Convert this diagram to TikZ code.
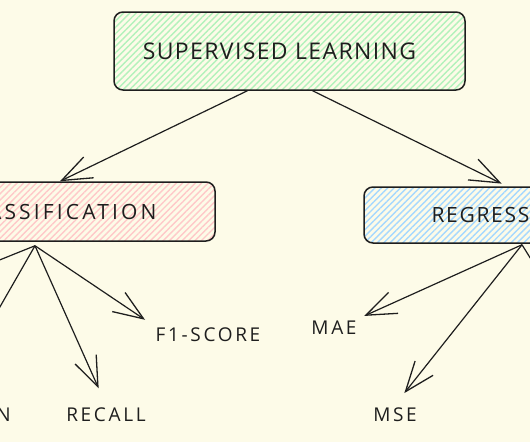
\documentclass[tikz,border=0pt]{standalone}
\usepackage{fontspec}
\setmainfont{Open Sans}
\usetikzlibrary{arrows.meta,patterns.meta}
\definecolor{paper}{HTML}{FDFBE8}
\definecolor{ink}{HTML}{1E1E1E}
\definecolor{mint}{HTML}{B2F2BB}
\definecolor{rose}{HTML}{FFC9C9}
\definecolor{sky}{HTML}{A5D8FF}
\newcommand{\sketchsize}[2]{\fontsize{#1}{#1}\selectfont\addfontfeatures{LetterSpace=#2}}
\tikzset{basic/.style={draw=ink,line width=1.5pt,rounded corners=9pt,
                       text=ink,inner sep=0pt}}
\tikzset{topic/.style={basic,
                       pattern={Lines[angle=45,distance=4.5pt,line width=1.4pt]},
                       pattern color=#1}}
\tikzset{metric/.style={text=ink,inner sep=3pt,font=\sketchsize{19}{14}}}
\tikzset{link/.style={draw=ink,line width=1.2pt,
                      -{Straight Barb[length=30pt,width=23pt,line width=1.3pt]}}}

\begin{document}
\begin{tikzpicture}[x=1pt,y=-1pt]
    \fill[paper] (0,0) rectangle (530,442);
    \useasboundingbox (0,0) rectangle (530,442);
    \clip (0,0) rectangle (530,442);

    % root
    \node[topic=mint,minimum width=351pt,minimum height=78pt,
          font=\sketchsize{23}{6}] (sup) at (289.5,51)
          {SUPERVISED LEARNING\hspace*{20pt}};

    % branches
    \node[topic=rose,minimum width=316pt,minimum height=59pt,
          font=\sketchsize{21}{15}] (cls) at (57,211.5) {CLASSIFICATION};
    \node[topic=sky,minimum width=276pt,minimum height=56pt,
          font=\sketchsize{21}{8}] (reg) at (502,215) {REGRESSION};

    \draw[link] ([xshift=-42pt]sup.south) -- ([xshift=3pt]cls.north);
    \draw[link,shorten >=6pt] ([xshift=23pt]sup.south) -- ([xshift=5pt]reg.north);

    % metrics of classification
    \node[metric,anchor=east] (prec) at (14,415) {PRECISION};
    \node[metric] (rec) at (106,415) {RECALL};
    \node[metric] (f1) at (208,335) {F1-SCORE};
    \coordinate (acc) at (-100,300);
    \coordinate (prectip) at (-46,387);
    \coordinate (clsfoot) at ([xshift=-22pt,yshift=-4pt]cls.south);

    \draw[link] (clsfoot) -- (acc);
    \draw[link] (clsfoot) -- (prectip);
    \draw[link,shorten >=18pt] (clsfoot) -- (rec.north);
    \draw[link,shorten >=9pt] (clsfoot) -- (f1.north west);

    % metrics of regression
    \node[metric] (mae) at (334,328) {MAE};
    \node[metric] (mse) at (395,415) {MSE};
    \coordinate (rtwo) at (600,370);
    \coordinate (regfoot) at ([xshift=20pt,yshift=-1pt]reg.south);

    \draw[link,shorten >=5pt] (regfoot) -- (mae.north east);
    \draw[link,shorten >=15pt] (regfoot) -- (mse.north);
    \draw[link] (regfoot) -- (rtwo);
\end{tikzpicture}
\end{document}
